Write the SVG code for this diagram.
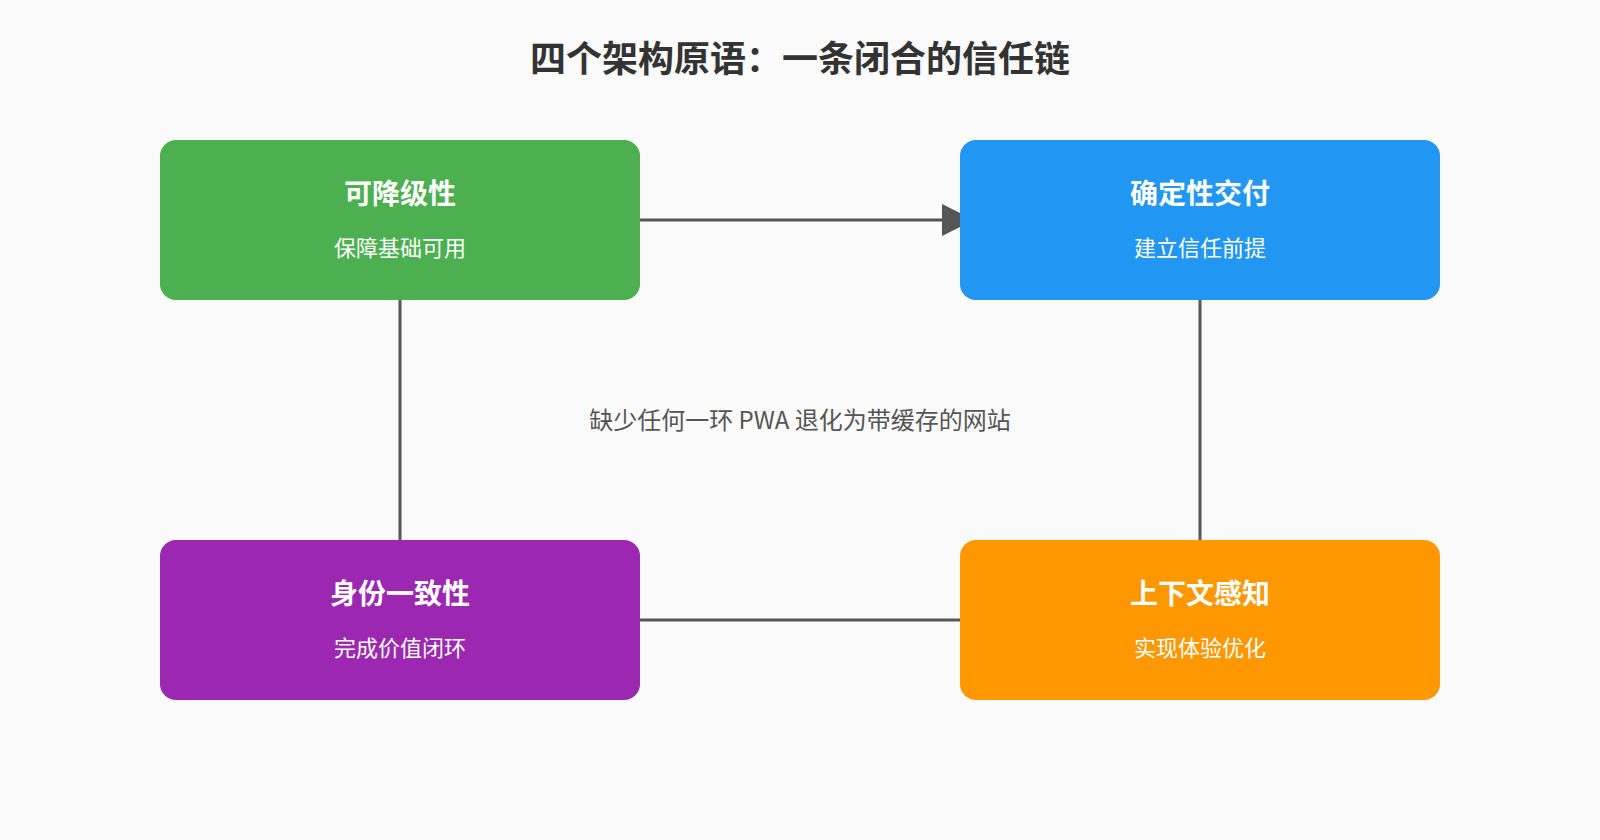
<svg xmlns="http://www.w3.org/2000/svg" width="1600" height="840" viewBox="0 0 1600 840">
<defs>
<marker id="ah" markerWidth="10" markerHeight="10" refX="2" refY="5" orient="auto" markerUnits="userSpaceOnUse" viewBox="0 0 10 10"><path d="M0,0 L10,5 L0,10 z" fill="#555"/></marker>
<marker id="arr" markerWidth="32" markerHeight="32" refX="2" refY="16" orient="auto" markerUnits="userSpaceOnUse"><path d="M0,0 L32,16 L0,32 z" fill="#555"/></marker>
</defs>
<style>
text{font-family:"Noto Sans CJK SC","Noto Sans",sans-serif;text-anchor:middle}
.t{font-size:28px;font-weight:bold;fill:#fff}
.s{font-size:22px;fill:#fff}
.c{stroke:#555;stroke-width:3;fill:none}
</style>
<rect width="1600" height="840" fill="#fafafa"/>
<text x="800" y="72" style="font-size:36px;font-weight:bold;fill:#333">四个架构原语：一条闭合的信任链</text>
<g id="connectors">
<line class="c" x1="640" y1="220" x2="944" y2="220" marker-end="url(#arr)"/>
<line class="c" x1="400" y1="300" x2="400" y2="540"/>
<line class="c" x1="1200" y1="300" x2="1200" y2="540"/>
<line class="c" x1="640" y1="620" x2="960" y2="620"/>
</g>
<g id="n1"><rect x="160" y="140" width="480" height="160" rx="16" fill="#4caf50"/><text class="t" x="400" y="204">可降级性</text><text class="s" x="400" y="256">保障基础可用</text></g>
<g id="n2"><rect x="960" y="140" width="480" height="160" rx="16" fill="#2196f3"/><text class="t" x="1200" y="204">确定性交付</text><text class="s" x="1200" y="256">建立信任前提</text></g>
<g id="n3"><rect x="160" y="540" width="480" height="160" rx="16" fill="#9c27b0"/><text class="t" x="400" y="604">身份一致性</text><text class="s" x="400" y="656">完成价值闭环</text></g>
<g id="n4"><rect x="960" y="540" width="480" height="160" rx="16" fill="#ff9800"/><text class="t" x="1200" y="604">上下文感知</text><text class="s" x="1200" y="656">实现体验优化</text></g>
<text x="800" y="429" style="font-size:24px;fill:#555">缺少任何一环 PWA 退化为带缓存的网站</text>
</svg>
